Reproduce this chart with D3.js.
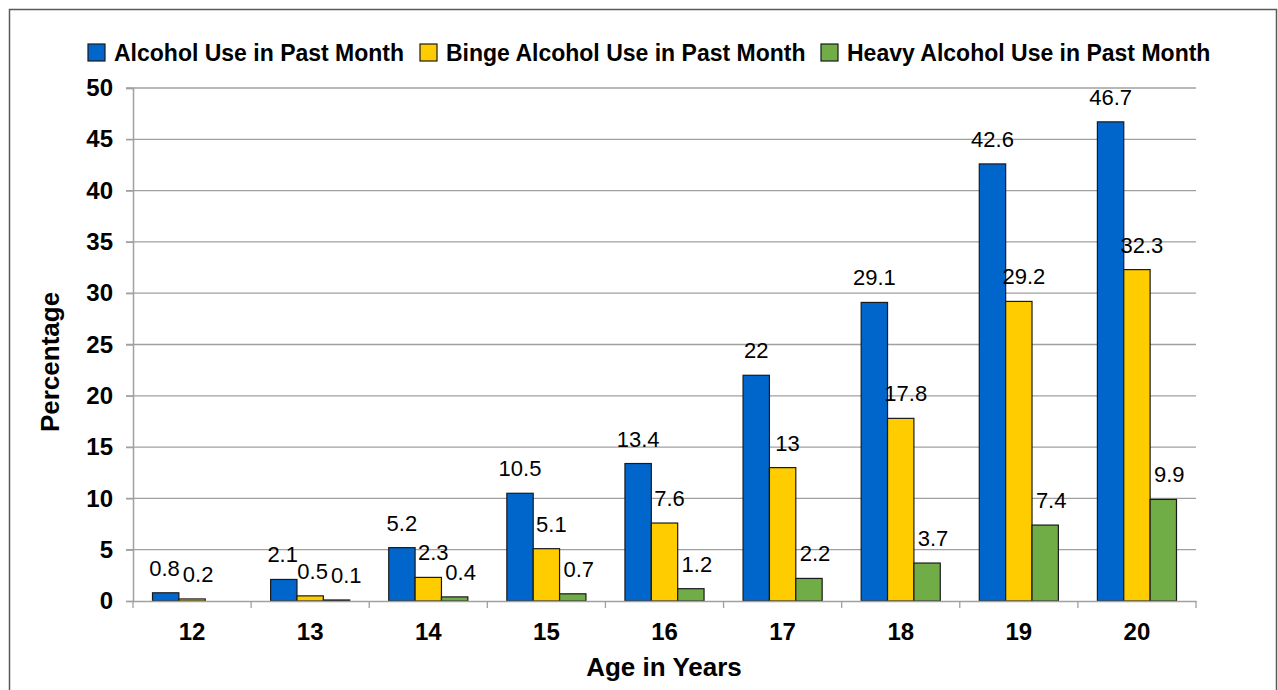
<!DOCTYPE html>
<html>
<head>
<meta charset="utf-8">
<script src="https://cdn.jsdelivr.net/npm/d3@7"></script>
<style>
  body { margin: 0; background: #fff; }
  svg { display: block; font-family: "Liberation Sans", Arial, sans-serif; }
</style>
</head>
<body>
<div class="chart"></div>
<script>
// data
const ages = ["12", "13", "14", "15", "16", "17", "18", "19", "20"];
const seriesNames = [
  "Alcohol Use in Past Month",
  "Binge Alcohol Use in Past Month",
  "Heavy Alcohol Use in Past Month"
];
const alcoholUse = [0.8, 2.1, 5.2, 10.5, 13.4, 22, 29.1, 42.6, 46.7];
const bingeUse = [0.2, 0.5, 2.3, 5.1, 7.6, 13, 17.8, 29.2, 32.3];
const heavyUse = [null, 0.1, 0.4, 0.7, 1.2, 2.2, 3.7, 7.4, 9.9];
const yTicks = [0, 5, 10, 15, 20, 25, 30, 35, 40, 45, 50];

const colors = ["#0066CC", "#FFCC00", "#70AD47"];
const seriesValues = [alcoholUse, bingeUse, heavyUse];
const labelShift = [0, 5, 6]; // labels of the 2nd/3rd series sit a bit right of the bar

const W = 1278, H = 690;
const plot = { left: 133, right: 1196, top: 88, bottom: 601 };
const labelSize = 22;

const svg = d3.select(".chart").append("svg")
  .attr("width", W)
  .attr("height", H);

// outer frame
svg.append("rect")
  .attr("x", 9.5).attr("y", 9.5)
  .attr("width", 1267).attr("height", 700)
  .attr("fill", "none")
  .attr("stroke", "#595959")
  .attr("stroke-width", 1.5);

const x0 = d3.scaleBand()
  .domain(ages)
  .range([plot.left, plot.right]);

const x1 = d3.scaleBand()
  .domain(d3.range(3))
  .range([0, x0.bandwidth()])
  .paddingInner(0)
  .paddingOuter(0.74);

const y = d3.scaleLinear()
  .domain([0, 50])
  .range([plot.bottom, plot.top]);

// gridlines
svg.append("g")
  .selectAll("line")
  .data(yTicks.filter(d => d > 0))
  .enter().append("line")
  .attr("x1", plot.left - 7)
  .attr("x2", plot.right)
  .attr("y1", d => y(d))
  .attr("y2", d => y(d))
  .attr("stroke", "#a0a0a0")
  .attr("stroke-width", 1.3);

// y axis
const yAxis = svg.append("g")
  .attr("transform", `translate(${plot.left}, 0)`)
  .call(d3.axisLeft(y).tickValues(yTicks).tickSize(7).tickPadding(13));
yAxis.select(".domain").attr("stroke", "#a0a0a0").attr("stroke-width", 1.5);
yAxis.selectAll(".tick line").attr("stroke", "#a0a0a0").attr("stroke-width", 1.3);
yAxis.selectAll(".tick text")
  .attr("font-size", 24)
  .attr("font-weight", "bold")
  .attr("font-family", "Liberation Sans, Arial, sans-serif")
  .attr("fill", "#000");

// bars
const groups = svg.append("g")
  .selectAll("g")
  .data(ages)
  .enter().append("g")
  .attr("transform", d => `translate(${x0(d)}, 0)`);

const cells = (d, i) => seriesValues.map((s, k) => ({ k, v: s[i] })).filter(e => e.v != null);

groups.selectAll("rect")
  .data(cells)
  .enter().append("rect")
  .attr("x", e => x1(e.k))
  .attr("width", x1.bandwidth())
  .attr("y", e => y(e.v))
  .attr("height", e => y(0) - y(e.v))
  .attr("fill", e => colors[e.k])
  .attr("stroke", "#1a1a1a")
  .attr("stroke-width", 1.2);

groups.each(function (d, gi) {
  const labels = d3.select(this).selectAll("text.val")
    .data(cells(d, gi))
    .enter().append("text")
    .attr("class", "val")
    .attr("x", e => x1(e.k) + x1.bandwidth() / 2 + labelShift[e.k])
    .attr("y", e => y(e.v) - 17)
    .attr("text-anchor", "middle")
    .attr("font-size", labelSize)
    .attr("fill", "#000")
    .text(e => e.v);

  // push neighbouring labels apart when they collide
  const nodes = labels.nodes();
  for (let i = 0; i + 1 < nodes.length; i++) {
    const a = nodes[i], b = nodes[i + 1];
    const ax = +a.getAttribute("x"), bx = +b.getAttribute("x");
    const ay = +a.getAttribute("y"), by = +b.getAttribute("y");
    const aw = a.getComputedTextLength(), bw = b.getComputedTextLength();
    if (Math.abs(ay - by) > labelSize * 0.75) continue;
    const overlap = (ax + aw / 2 + 3) - (bx - bw / 2);
    if (overlap > 0) {
      a.setAttribute("x", ax - overlap / 2);
      b.setAttribute("x", bx + overlap / 2);
    }
  }
});

// x axis
const xAxis = svg.append("g")
  .attr("transform", `translate(0, ${plot.bottom})`)
  .call(d3.axisBottom(x0).tickSize(0).tickPadding(22));
xAxis.select(".domain").attr("stroke", "#a0a0a0").attr("stroke-width", 1.5);
xAxis.selectAll(".tick text")
  .attr("font-size", 24)
  .attr("font-weight", "bold")
  .attr("font-family", "Liberation Sans, Arial, sans-serif")
  .attr("fill", "#000");

// category separators
xAxis.selectAll(".sep")
  .data(ages.concat(["end"]))
  .enter().append("line")
  .attr("class", "sep")
  .attr("x1", (d, i) => plot.left + i * x0.bandwidth())
  .attr("x2", (d, i) => plot.left + i * x0.bandwidth())
  .attr("y1", 0)
  .attr("y2", 7)
  .attr("stroke", "#a0a0a0")
  .attr("stroke-width", 1.3);

// axis titles
svg.append("text")
  .attr("x", 664)
  .attr("y", 676)
  .attr("text-anchor", "middle")
  .attr("font-size", 26)
  .attr("font-weight", "bold")
  .text("Age in Years");

svg.append("text")
  .attr("transform", "translate(59, 362) rotate(-90)")
  .attr("text-anchor", "middle")
  .attr("font-size", 26)
  .attr("font-weight", "bold")
  .text("Percentage");

// legend
const legendX = [88, 420, 821];
const legend = svg.append("g")
  .selectAll("g")
  .data(seriesNames)
  .enter().append("g")
  .attr("transform", (d, i) => `translate(${legendX[i]}, 44)`);

legend.append("rect")
  .attr("width", 17)
  .attr("height", 17)
  .attr("fill", (d, i) => colors[i])
  .attr("stroke", "#1a1a1a")
  .attr("stroke-width", 1.2);

legend.append("text")
  .attr("x", 26)
  .attr("y", 17)
  .attr("font-size", 23)
  .attr("font-weight", "bold")
  .text(d => d);
</script>
</body>
</html>
